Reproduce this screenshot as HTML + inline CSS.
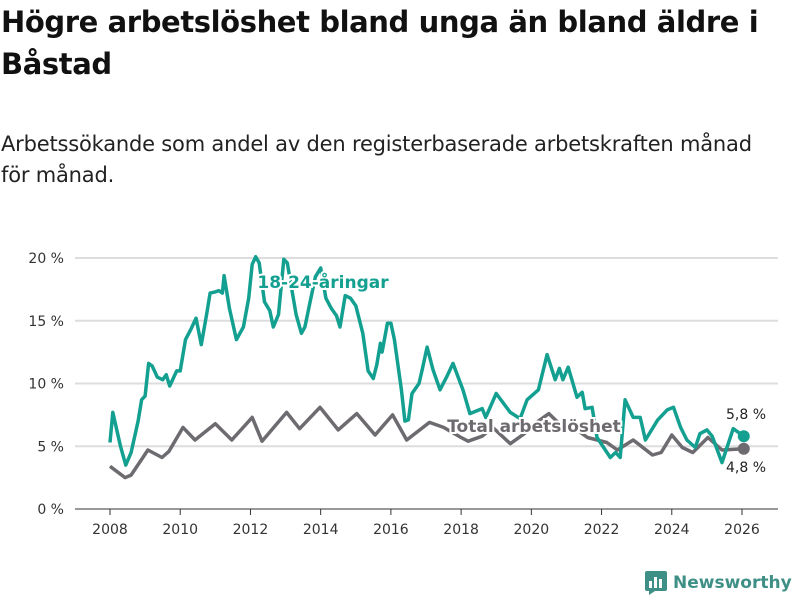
<!DOCTYPE html>
<html><head><meta charset="utf-8"><style>
body{margin:0;width:800px;height:600px;background:#fff;font-family:"DejaVu Sans","Liberation Sans",sans-serif;overflow:hidden;position:relative}
#title{position:absolute;left:1px;top:1px;font-size:29px;font-weight:bold;line-height:42px;color:#111;width:799px;white-space:nowrap;letter-spacing:-0.4px}
#sub{position:absolute;left:1px;top:129px;font-size:21px;line-height:31px;color:#222;width:799px;white-space:nowrap;letter-spacing:-0.2px}
svg{position:absolute;left:0;top:0}
</style></head><body>
<div id="title">Högre arbetslöshet bland unga än bland äldre i<br>Båstad</div>
<div id="sub">Arbetssökande som andel av den registerbaserade arbetskraften månad<br>för månad.</div>
<svg id="c" width="800" height="600"></svg>
<script>
const yTicks=[0,5,10,15,20];
const xTicks=[2008,2010,2012,2014,2016,2018,2020,2022,2024,2026];
const youthYears=[2008,2008.08,2008.3,2008.45,2008.6,2008.8,2008.9,2009,2009.1,2009.2,2009.35,2009.5,2009.6,2009.7,2009.9,2010,2010.15,2010.3,2010.45,2010.6,2010.75,2010.85,2011,2011.1,2011.2,2011.25,2011.4,2011.6,2011.8,2011.95,2012.05,2012.15,2012.25,2012.4,2012.55,2012.65,2012.8,2012.95,2013.05,2013.3,2013.45,2013.55,2013.7,2013.85,2014,2014.15,2014.3,2014.45,2014.55,2014.7,2014.85,2015,2015.2,2015.35,2015.5,2015.6,2015.7,2015.75,2015.9,2016,2016.1,2016.3,2016.4,2016.5,2016.6,2016.8,2016.9,2017.03,2017.2,2017.4,2017.6,2017.77,2018.05,2018.25,2018.6,2018.7,2019,2019.4,2019.68,2019.88,2020.2,2020.45,2020.68,2020.8,2020.9,2021.05,2021.3,2021.45,2021.53,2021.73,2021.87,2022.25,2022.4,2022.53,2022.67,2022.9,2023.1,2023.25,2023.6,2023.87,2024.05,2024.25,2024.43,2024.67,2024.8,2025,2025.15,2025.43,2025.75,2025.9,2026.05];
const youthVals=[5.3,7.7,5,3.5,4.5,7,8.7,9,11.6,11.4,10.5,10.3,10.7,9.8,11,11,13.5,14.3,15.2,13.1,15.5,17.2,17.3,17.4,17.2,18.6,16,13.5,14.5,16.8,19.5,20.1,19.6,16.5,15.8,14.5,15.5,19.9,19.6,15.5,14,14.5,16.5,18.5,19.2,16.8,16,15.4,14.5,17,16.8,16.2,14,11,10.4,11.5,13.2,12.5,14.8,14.8,13.5,9.5,7,7.1,9.2,10,11.2,12.9,11.1,9.5,10.6,11.6,9.5,7.6,8,7.3,9.2,7.7,7.2,8.7,9.5,12.3,10.3,11.2,10.3,11.3,8.9,9.3,8,8.1,5.7,4.1,4.5,4.1,8.7,7.3,7.3,5.5,7.1,7.9,8.1,6.5,5.5,4.9,6,6.3,5.8,3.7,6.4,6.1,5.8];
const totalYears=[2008,2008.43,2008.6,2009.08,2009.48,2009.68,2010.08,2010.42,2011,2011.47,2012.05,2012.33,2013.03,2013.4,2013.98,2014.5,2015.03,2015.55,2016.05,2016.45,2017.1,2017.5,2018,2018.2,2018.6,2018.9,2019.4,2019.8,2020.2,2020.5,2020.8,2021.2,2021.6,2022.15,2022.45,2022.9,2023.45,2023.7,2024,2024.3,2024.6,2025.03,2025.43,2026.05];
const totalVals=[3.4,2.5,2.7,4.7,4.1,4.6,6.5,5.5,6.8,5.5,7.3,5.4,7.7,6.4,8.1,6.3,7.6,5.9,7.5,5.5,6.9,6.5,5.7,5.4,5.8,6.5,5.2,6,7,7.6,6.8,6.5,5.7,5.3,4.7,5.5,4.3,4.5,5.9,4.9,4.5,5.7,4.7,4.8];
const NS='http://www.w3.org/2000/svg',svg=document.getElementById('c');
const X=y=>110+(y-2008)*(632/18), Y=v=>509-v*12.55;
function el(t,a,txt){const e=document.createElementNS(NS,t);for(const k in a)e.setAttribute(k,a[k]);if(txt!==undefined)e.textContent=txt;svg.appendChild(e);return e;}
yTicks.forEach(v=>{
 const g=el('line',{x1:75,x2:778,y1:Y(v),y2:Y(v),stroke:v===0?'#333':'#ddd','stroke-width':v===0?1:2});
 
 
 const t=el('text',{x:64,y:Y(v)+5,'text-anchor':'end','font-size':14,fill:'#333'},v+' %');
 
 
});
xTicks.forEach(yr=>{
 const l=el('line',{x1:X(yr),x2:X(yr),y1:509,y2:515,stroke:'#333'});
 
 
 const t=el('text',{x:X(yr),y:534,'text-anchor':'middle','font-size':14,fill:'#333'},yr);
 
 
});
function line(ys,vs,col,name){
 const d=ys.map((y,i)=>(i?'L':'M')+X(y).toFixed(1)+','+Y(vs[i]).toFixed(1)).join('');
 const p=el('path',{d:d,fill:'none',stroke:col,'stroke-width':3.5,'stroke-linejoin':'round'});
 
 
 const c=el('circle',{cx:X(ys[ys.length-1]),cy:Y(vs[vs.length-1]),r:6,fill:col});
 
 
}
line(totalYears,totalVals,'#6e6b70','total-line');
line(youthYears,youthVals,'#14a091','youth-line');
function lbl(x,y,txt,col,name,anchor,bold,size){
 const t=el('text',{x:x,y:y,'text-anchor':anchor,'font-size':size,'font-weight':bold?'bold':'normal',fill:col,stroke:'#fff','stroke-width':4,'paint-order':'stroke'},txt);
 
 
}
lbl(323,288,'18-24-åringar','#14a091','youth-series-label','middle',true,17);
lbl(534,432,'Total arbetslöshet','#6e6b70','total-series-label','middle',true,17);
lbl(746,419,'5,8 %','#222','youth-end-value','middle',false,14);
lbl(746,472,'4,8 %','#222','total-end-value','middle',false,14);
</script>
<div style="position:absolute;left:645px;top:571px;height:24px;display:flex;align-items:center">
<svg width="22" height="24" style="position:static"><rect x="0" y="0" width="22" height="20" rx="2" fill="#3e8f86"/><polygon points="4,20 10,20 4,24" fill="#3e8f86"/><rect x="4" y="10" width="3" height="7" fill="#fff"/><rect x="9" y="6" width="3" height="11" fill="#fff"/><rect x="14" y="8" width="3" height="9" fill="#fff"/></svg>
<span style="font-size:17px;font-weight:bold;color:#3e8f86;margin-left:6px">Newsworthy</span></div>
</body></html>
